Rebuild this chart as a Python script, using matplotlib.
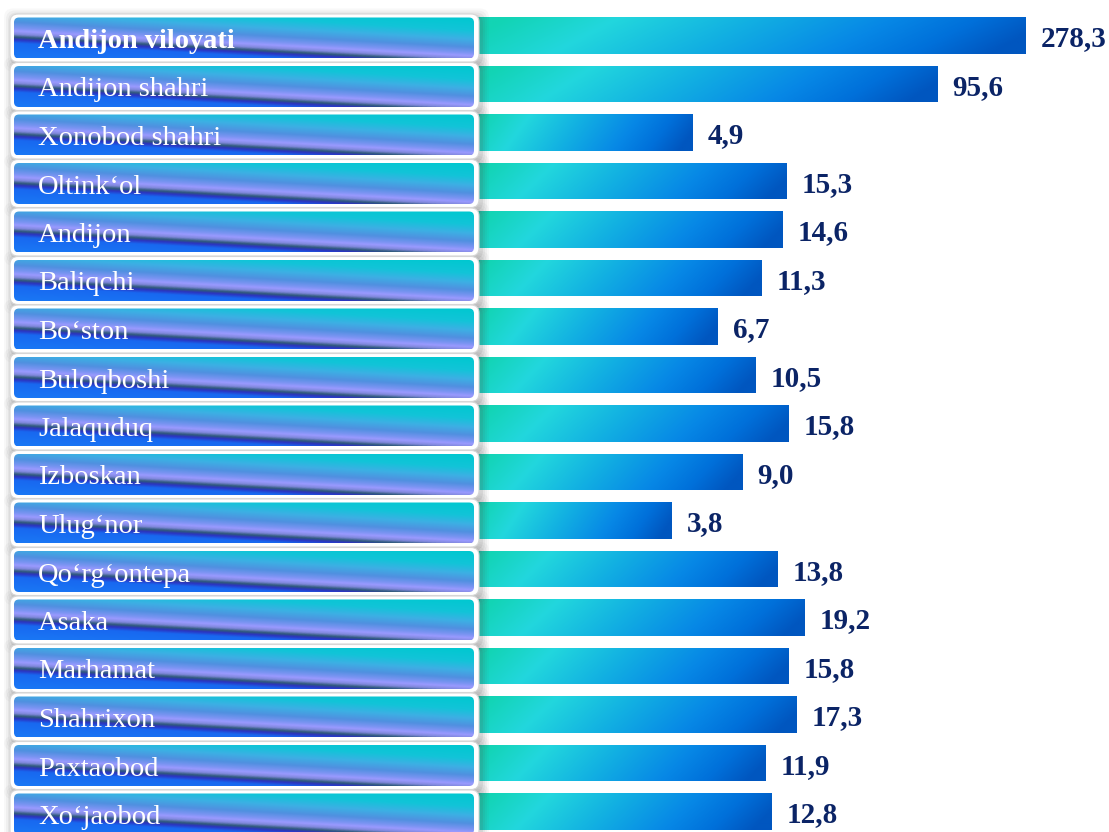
import numpy as np
import matplotlib

matplotlib.use("Agg")
import matplotlib.pyplot as plt
from matplotlib.colors import LinearSegmentedColormap
from matplotlib.patches import FancyBboxPatch

regions = [
    "Andijon viloyati", "Andijon shahri", "Xonobod shahri", "Oltink\u2018ol", "Andijon",
    "Baliqchi", "Bo\u2018ston", "Buloqboshi", "Jalaquduq", "Izboskan", "Ulug\u2018nor",
    "Qo\u2018rg\u2018ontepa", "Asaka", "Marhamat", "Shahrixon", "Paxtaobod", "Xo\u2018jaobod",
]
values = [278.3, 95.6, 4.9, 15.3, 14.6, 11.3, 6.7, 10.5, 15.8, 9.0, 3.8,
          13.8, 19.2, 15.8, 17.3, 11.9, 12.8]
value_labels = ["278,3", "95,6", "4,9", "15,3", "14,6", "11,3", "6,7", "10,5", "15,8",
                "9,0", "3,8", "13,8", "19,2", "15,8", "17,3", "11,9", "12,8"]

W, H = 1109, 832
ROW0, STEP = 35.5, 48.5      # pixel centre of first bar, row pitch
BAR_LEFT = 472
X0, X1 = 0.34, 766           # log-axis limits

bar_cmap = LinearSegmentedColormap.from_list("bar", [
    (0.0, "#12d4b4"), (0.2, "#22d7dd"), (0.45, "#12b0e2"),
    (0.7, "#0788e6"), (0.86, "#0070da"), (1.0, "#0056bf")])

# stripe colours for the label boxes, positions in s = v - 0.62u
stripe = [(-0.62, "#00c8d0"), (-0.3, "#12c4d8"), (-0.08, "#3cb0e4"), (0.12, "#5090e0"),
          (0.26, "#7a94f2"), (0.34, "#9a9aff"), (0.42, "#8088dc"), (0.49, "#2e5a78"),
          (0.55, "#2c32c0"), (0.64, "#1868f0"), (1.0, "#1a78f5")]
box_cmap = LinearSegmentedColormap.from_list(
    "box", [((s + 0.62) / 1.62, c) for s, c in stripe])

fig = plt.figure(figsize=(W / 100, H / 100), dpi=100)
fig.patch.set_facecolor("white")

# bars on a log axis
ax = fig.add_axes([BAR_LEFT / W, 0, 1 - BAR_LEFT / W, 1])
ax.set_xscale("log")
ax.set_xlim(X0, X1)
ax.set_ylim((H - ROW0) / STEP, -ROW0 / STEP)
ax.axis("off")

n = len(values)
ys = np.arange(n)
bh = 37 / STEP
bars = ax.barh(ys, np.array(values) - X0, left=X0, height=bh, color="none", linewidth=0)

gx = np.linspace(0, 1, 300)
gy = np.linspace(0, 1, 40)
GX, GY = np.meshgrid(gx, gy)
bar_grad = np.clip(GX + 0.12 * (GY - 0.5), 0, 1)

to_axes = ax.transAxes.inverted()
for yi, v, patch, lab in zip(ys, values, bars, value_labels):
    (a0, b0), (a1, b1) = to_axes.transform(
        ax.transData.transform([[X0, yi + bh / 2], [v, yi - bh / 2]]))
    im = ax.imshow(bar_grad, cmap=bar_cmap, extent=(a0, a1, b0, b1), transform=ax.transAxes,
                   aspect="auto", interpolation="bilinear", origin="upper", zorder=2)
    im.set_clip_path(patch)
    ax.annotate(lab, (v, yi), xytext=(11, -7.6), textcoords="offset points",
                ha="left", va="baseline", fontsize=21, fontweight="bold",
                family="Liberation Serif", color="#0b2466", zorder=3)
ax.set_xlim(X0, X1)
ax.set_ylim((H - ROW0) / STEP, -ROW0 / STEP)

# label boxes overlay in pixel coordinates
ax2 = fig.add_axes([0, 0, 1, 1])
ax2.patch.set_alpha(0)
ax2.axis("off")

u = np.linspace(0, 1, 400)
v_ = np.linspace(0, 1, 60)
U, V = np.meshgrid(u, v_)
box_grad = np.clip((V - 0.62 * U + 0.62) / 1.62, 0, 1)

for i, name in enumerate(regions):
    cy = ROW0 + STEP * i + 2.5
    for k, a in [(8, 0.04), (6, 0.05), (4, 0.07), (2, 0.10)]:
        ax2.add_patch(FancyBboxPatch((10 - k + 2, cy - 23.5 - k + 2), 469 + 2 * k, 47 + 2 * k,
                                     boxstyle="round,pad=0,rounding_size=9", fc="#555555",
                                     ec="none", alpha=a, zorder=1))
    ax2.add_patch(FancyBboxPatch((10, cy - 24), 469, 48, boxstyle="round,pad=0,rounding_size=8",
                                 fc="white", ec="#d6d6d6", lw=0.8, zorder=2))
    inner = FancyBboxPatch((14, cy - 20.5), 460, 41, boxstyle="round,pad=0,rounding_size=5",
                           fc="none", ec="none", zorder=3)
    ax2.add_patch(inner)
    im = ax2.imshow(box_grad, cmap=box_cmap, extent=(14, 474, cy + 20.5, cy - 20.5),
                    aspect="auto", interpolation="bilinear", origin="upper", zorder=3)
    im.set_clip_path(inner)
    ax2.text(38, cy + 10, name, color="white", fontsize=20.5, family="Liberation Serif",
             fontweight="bold" if i == 0 else "normal", ha="left", va="baseline", zorder=4)

ax2.set_xlim(0, W)
ax2.set_ylim(H, 0)

fig.savefig("out.png", dpi=100, facecolor="white")
